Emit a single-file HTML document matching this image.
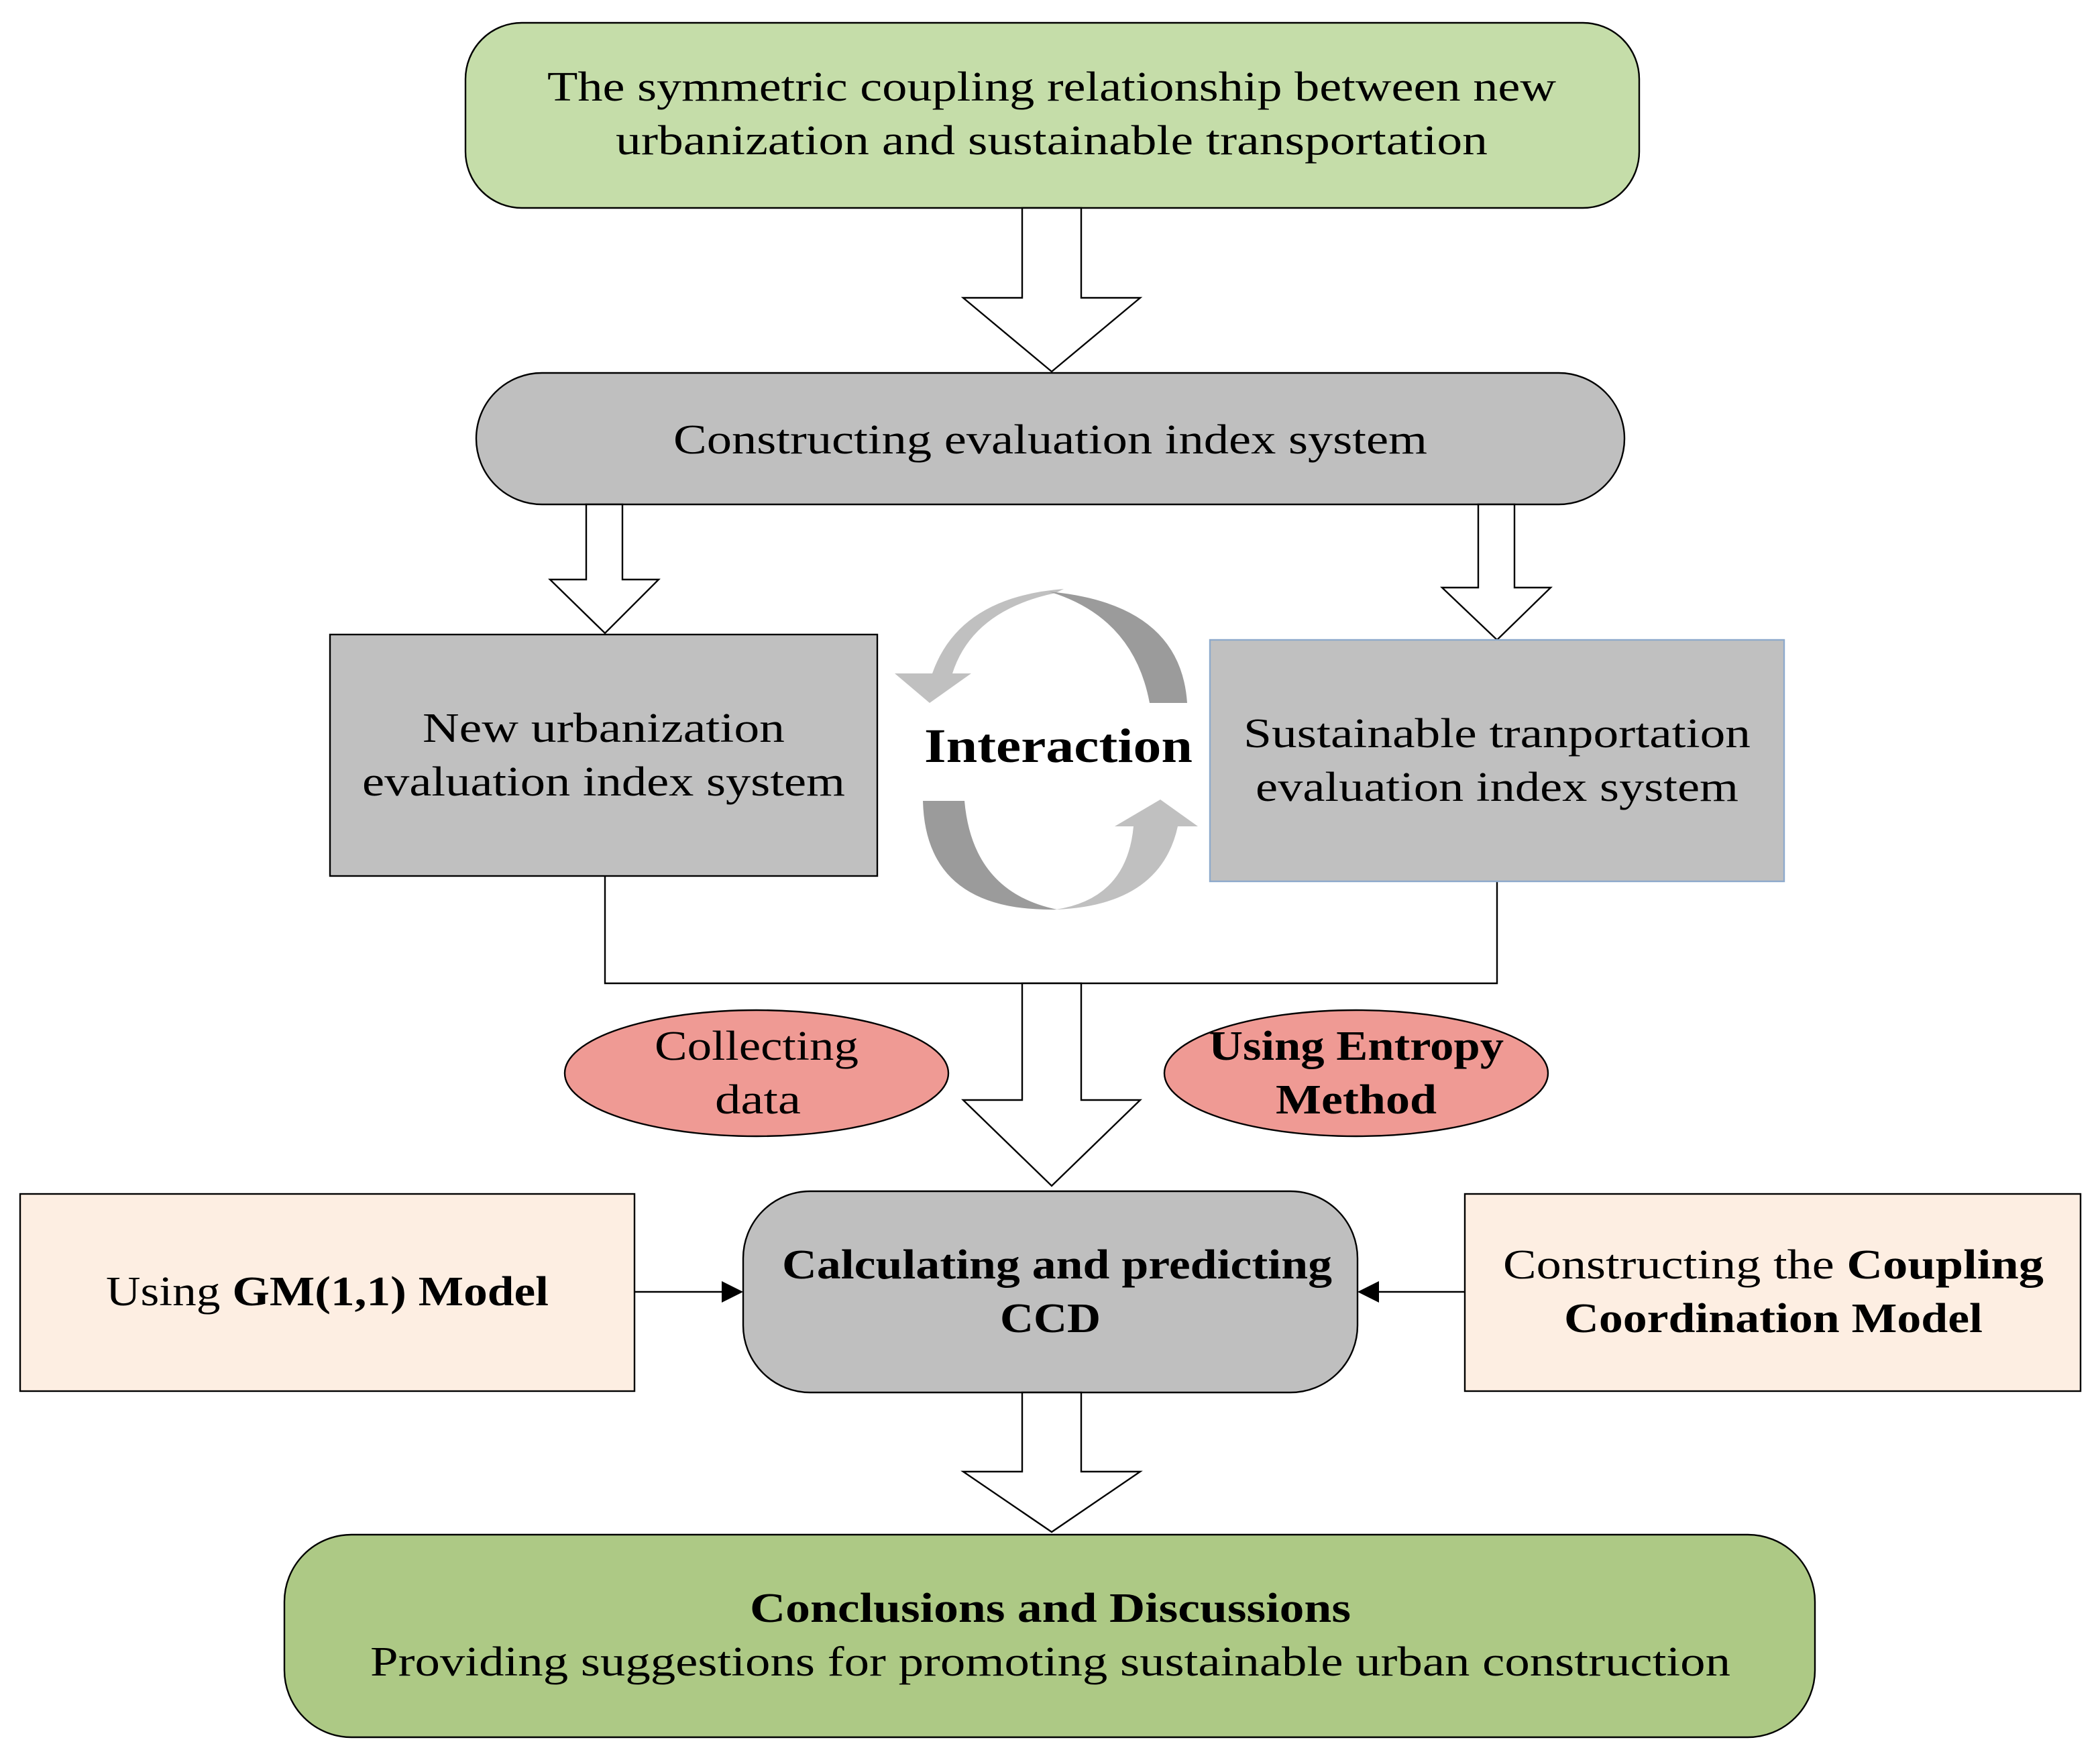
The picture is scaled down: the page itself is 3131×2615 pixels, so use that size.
<!DOCTYPE html>
<html><head><meta charset="utf-8"><style>html,body{margin:0;padding:0;background:#fff}svg{display:block}</style></head><body>
<svg width="3131" height="2615" viewBox="0 0 1565.5 1307.5" xmlns="http://www.w3.org/2000/svg" font-family="'Liberation Serif', serif" font-size="31" text-anchor="middle">
<rect x="0" y="0" width="1565.5" height="1307.5" fill="#fff"/>
<g stroke="#000" stroke-width="1.2">
<rect x="347" y="17" width="875" height="138" rx="42" fill="#c5dda9"/>
<polygon points="762,155 806,155 806,222 850,222 784,277 718,222 762,222" fill="#fff"/>
<rect x="355" y="278" width="856" height="98" rx="49" fill="#bfbfbf"/>
<polygon points="437,376 464,376 464,432 491,432 451,472 410,432 437,432" fill="#fff"/>
<polygon points="1102,376 1129,376 1129,438 1156,438 1116,477 1075,438 1102,438" fill="#fff"/>
<rect x="246" y="473" width="408" height="180" fill="#c0c0c0"/>
<polyline points="451,653 451,733 1116,733 1116,657" fill="none"/>
<polygon points="762,733 806,733 806,820 850,820 784,884 718,820 762,820" fill="#fff"/>
<ellipse cx="564" cy="800" rx="143" ry="47" fill="#ef9a94"/>
<ellipse cx="1011" cy="800" rx="143" ry="47" fill="#ef9a94"/>
<rect x="554" y="888" width="458" height="150" rx="50" fill="#bfbfbf"/>
<rect x="15" y="890" width="458" height="147" fill="#fdeee2"/>
<rect x="1092" y="890" width="459" height="147" fill="#fdeee2"/>
<line x1="473" y1="963" x2="540" y2="963"/>
<line x1="1092" y1="963" x2="1026" y2="963"/>
<polygon points="762,1038 806,1038 806,1097 850,1097 784,1142 718,1097 762,1097" fill="#fff"/>
<rect x="212" y="1144" width="1141" height="151" rx="50" fill="#adc985"/>
</g>
<rect x="902" y="477" width="428" height="180" fill="#c0c0c0" stroke="#8eaacc" stroke-width="1.2"/>
<polygon points="554,963 538,955 538,971" fill="#000"/>
<polygon points="1012,963 1028,955 1028,971" fill="#000"/>
<path d="M695,502 Q715,445 793,439 L787,442 Q725,455 710,502 Z" fill="#c0c0c0"/>
<polygon points="667,502 724,502 693,524" fill="#c0c0c0"/>
<path d="M782,441 Q880,450 885,524 L857,524 Q845,460 782,441 Z" fill="#9b9b9b"/>
<path d="M688,597 L719,597 Q725,665 788,678 Q690,680 688,597 Z" fill="#9b9b9b"/>
<path d="M878,616 Q865,675 787,678 Q840,670 845,616 Z" fill="#c0c0c0"/>
<polygon points="831,616 893,616 865,596" fill="#c0c0c0"/>
<g fill="#000">
<text x="784" y="75" textLength="752" lengthAdjust="spacingAndGlyphs">The symmetric coupling relationship between new</text>
<text x="784" y="115" textLength="650" lengthAdjust="spacingAndGlyphs">urbanization and sustainable transportation</text>
<text x="783" y="338" textLength="562" lengthAdjust="spacingAndGlyphs">Constructing evaluation index system</text>
<text x="450" y="553" textLength="270" lengthAdjust="spacingAndGlyphs">New urbanization</text>
<text x="450" y="593" textLength="360" lengthAdjust="spacingAndGlyphs">evaluation index system</text>
<text x="1116" y="557" textLength="378" lengthAdjust="spacingAndGlyphs">Sustainable tranportation</text>
<text x="1116" y="597" textLength="360" lengthAdjust="spacingAndGlyphs">evaluation index system</text>
<text x="789" y="568" font-size="36" font-weight="bold" textLength="200" lengthAdjust="spacingAndGlyphs">Interaction</text>
<text x="564" y="790" textLength="152" lengthAdjust="spacingAndGlyphs">Collecting</text>
<text x="565" y="830" textLength="64" lengthAdjust="spacingAndGlyphs">data</text>
<text x="1011" y="790" font-weight="bold" textLength="220" lengthAdjust="spacingAndGlyphs">Using Entropy</text>
<text x="1011" y="830" font-weight="bold" textLength="120" lengthAdjust="spacingAndGlyphs">Method</text>
<text x="788" y="953" font-weight="bold" textLength="410" lengthAdjust="spacingAndGlyphs">Calculating and predicting</text>
<text x="783" y="993" font-weight="bold" textLength="75" lengthAdjust="spacingAndGlyphs">CCD</text>
<text x="244" y="973" textLength="330" lengthAdjust="spacingAndGlyphs">Using <tspan font-weight="bold">GM(1,1) Model</tspan></text>
<text x="1322" y="953" textLength="403" lengthAdjust="spacingAndGlyphs">Constructing the <tspan font-weight="bold">Coupling</tspan></text>
<text x="1322" y="993" font-weight="bold" textLength="312" lengthAdjust="spacingAndGlyphs">Coordination Model</text>
<text x="783" y="1209" font-weight="bold" textLength="448" lengthAdjust="spacingAndGlyphs">Conclusions and Discussions</text>
<text x="783" y="1249" textLength="1014" lengthAdjust="spacingAndGlyphs">Providing suggestions for promoting sustainable urban construction</text>
</g>
</svg>
</body></html>
